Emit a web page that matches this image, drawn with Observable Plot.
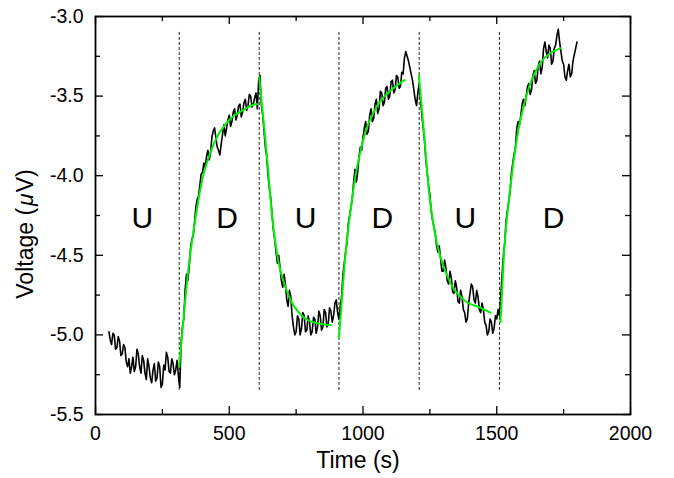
<!DOCTYPE html>
<html>
<head>
<meta charset="utf-8">
<script src="https://cdn.jsdelivr.net/npm/d3@7"></script>
<script src="https://cdn.jsdelivr.net/npm/@observablehq/plot@0.6"></script>
<style>
  html, body { margin: 0; padding: 0; background: #fff; }
  #chart { width: 674px; height: 478px; }
</style>
</head>
<body>
<div id="chart"></div>
<script>
// ---- Data ----
// Measured trace: time (s)
const traceTime = [
  50,55,60,65,70,75,80,85,90,95,100,105,110,115,120,125,130,135,140,145,150,155,160,165,170,175,180,185,190,195,
  200,205,210,215,220,225,230,235,240,245,250,255,260,265,270,275,280,285,290,295,300,305,310,315,
  320,325,330,335,340,345,350,355,360,365,370,375,380,385,390,395,400,405,410,415,420,425,430,435,440,445,
  450,455,460,465,470,475,480,485,490,495,500,505,510,515,520,525,530,535,540,545,550,555,560,565,570,575,
  580,585,590,595,600,605,610,615,
  620,625,630,635,640,645,650,655,660,665,670,675,680,685,690,695,700,705,710,715,720,725,730,735,740,745,
  750,755,760,765,770,775,780,785,790,795,800,805,810,815,820,825,830,835,840,845,850,855,860,865,870,875,
  880,885,890,895,900,905,
  910,915,920,925,930,935,940,945,950,955,960,965,970,975,980,985,990,995,1000,1005,1010,1015,1020,1025,
  1030,1035,1040,1045,1050,1055,1060,1065,1070,1075,1080,1085,1090,1095,1100,1105,1110,1115,1120,1125,
  1130,1135,1140,1145,1150,1155,1160,1165,1170,1175,1180,1185,1190,1195,1200,1205,
  1210,1215,1220,1225,1230,1235,1240,1245,1250,1255,1260,1265,1270,1275,1280,1285,1290,1295,1300,1305,
  1310,1315,1320,1325,1330,1335,1340,1345,1350,1355,1360,1365,1370,1375,1380,1385,1390,1395,1400,1405,
  1410,1415,1420,1425,1430,1435,1440,1445,1450,1455,1460,1465,1470,1475,1480,1485,1490,1495,1500,1505,
  1510,1515,1520,1525,1530,1535,1540,1545,1550,1555,1560,1565,1570,1575,1580,1585,1590,1595,1600,1605,
  1610,1615,1620,1625,1630,1635,1640,1645,1650,1655,1660,1665,1670,1675,1680,1685,1690,1695,1700,1705,
  1710,1715,1720,1725,1730,1735,1740,1745,1750,1755,1760,1765,1770,1775,1780,1785,1790,1795,1800
];
// Measured trace: voltage (µV)
const traceVolt = [
  -4.98,-5.03,-5.06,-4.99,-5.00,-5.09,-5.08,-5.01,-5.04,-5.13,-5.12,-5.06,-5.08,-5.17,-5.20,-5.15,-5.24,-5.20,-5.14,-5.23,-5.20,-5.09,-5.12,-5.20,-5.24,-5.13,-5.16,-5.24,-5.28,-5.15,
  -5.20,-5.27,-5.30,-5.22,-5.18,-5.29,-5.27,-5.17,-5.20,-5.33,-5.31,-5.19,-5.22,-5.11,-5.14,-5.23,-5.24,-5.15,-5.18,-5.25,-5.22,-5.16,-5.26,-5.33,
  -5.05,-4.95,-4.90,-4.72,-4.62,-4.66,-4.58,-4.46,-4.40,-4.38,-4.30,-4.20,-4.15,-4.13,-4.06,-3.99,-3.98,-3.92,-3.95,-3.88,-3.84,-3.90,-3.86,-3.76,-3.72,-3.70,
  -3.76,-3.82,-3.84,-3.87,-3.80,-3.74,-3.68,-3.75,-3.70,-3.65,-3.62,-3.69,-3.66,-3.60,-3.58,-3.65,-3.62,-3.56,-3.55,-3.63,-3.60,-3.54,-3.52,-3.59,-3.56,-3.49,
  -3.50,-3.57,-3.55,-3.51,-3.48,-3.58,-3.40,-3.37,
  -3.55,-3.62,-3.72,-3.82,-3.88,-4.00,-4.08,-4.14,-4.24,-4.34,-4.40,-4.48,-4.55,-4.50,-4.58,-4.66,-4.70,-4.62,-4.68,-4.78,-4.82,-4.72,-4.76,-4.88,-4.95,-5.00,
  -4.98,-4.88,-4.90,-5.00,-4.96,-4.86,-4.88,-4.98,-4.97,-4.88,-4.92,-5.00,-4.98,-4.89,-4.90,-4.99,-4.95,-4.85,-4.88,-4.97,-4.95,-4.84,-4.86,-4.95,-4.93,-4.83,
  -4.85,-4.92,-4.88,-4.80,-4.78,-4.86,
  -4.90,-4.82,-4.76,-4.62,-4.55,-4.48,-4.42,-4.30,-4.25,-4.20,-4.14,-4.04,-3.96,-4.04,-3.98,-3.88,-3.82,-3.84,-3.76,-3.70,-3.66,-3.74,-3.72,-3.62,
  -3.58,-3.66,-3.64,-3.55,-3.52,-3.61,-3.58,-3.47,-3.48,-3.56,-3.54,-3.45,-3.44,-3.52,-3.50,-3.41,-3.40,-3.48,-3.46,-3.37,
  -3.38,-3.45,-3.44,-3.35,-3.36,-3.26,-3.22,-3.25,-3.28,-3.32,-3.36,-3.40,-3.46,-3.52,-3.56,-3.48,
  -3.42,-3.52,-3.62,-3.70,-3.78,-3.90,-3.98,-4.06,-4.12,-4.22,-4.28,-4.32,-4.36,-4.44,-4.48,-4.44,-4.52,-4.60,-4.60,-4.53,
  -4.58,-4.66,-4.68,-4.60,-4.64,-4.73,-4.74,-4.66,-4.70,-4.79,-4.80,-4.72,-4.76,-4.84,-4.86,-4.92,-4.90,-4.80,-4.74,-4.68,
  -4.70,-4.78,-4.80,-4.72,-4.76,-4.84,-4.86,-4.80,-4.84,-4.92,-4.94,-5.00,-4.98,-4.90,-4.92,-4.99,-4.96,-4.88,-4.90,-4.84,
  -4.88,-4.76,-4.62,-4.50,-4.42,-4.28,-4.22,-4.16,-4.10,-3.98,-3.92,-3.86,-3.82,-3.70,-3.66,-3.68,-3.62,-3.55,-3.52,-3.56,
  -3.50,-3.44,-3.42,-3.49,-3.46,-3.37,-3.34,-3.42,-3.40,-3.31,-3.28,-3.36,-3.32,-3.20,-3.16,-3.22,-3.26,-3.18,-3.20,-3.30,
  -3.28,-3.20,-3.18,-3.12,-3.08,-3.16,-3.22,-3.28,-3.30,-3.38,-3.40,-3.34,-3.30,-3.38,-3.36,-3.28,-3.24,-3.20,-3.16
];

// Fitted curves (green), one series per segment
const fitSeg = [
  1,1,1,1,1,1,1,1,1,1,1,1,1,1,1,1,
  2,2,2,2,2,2,2,2,2,2,2,
  3,3,3,3,3,3,3,3,3,3,3,3,3,
  4,4,4,4,4,4,4,4,
  5,5,5,5,5,5,5,5
];
const fitTime = [
  313,330,345,361,380,400,420,440,460,480,500,520,540,560,580,604,
  612,625,642,660,685,710,735,760,797,840,880,
  910,920,930,940,955,970,990,1010,1040,1070,1100,1130,1155,
  1209,1227,1246,1271,1315,1377,1439,1477,
  1514,1527,1551,1576,1614,1664,1700,1738
];
const fitVolt = [
  -5.20,-4.88,-4.62,-4.41,-4.20,-4.02,-3.90,-3.81,-3.74,-3.69,-3.65,-3.62,-3.60,-3.58,-3.56,-3.55,
  -3.38,-3.60,-3.90,-4.25,-4.55,-4.70,-4.80,-4.86,-4.91,-4.93,-4.94,
  -5.02,-4.80,-4.58,-4.40,-4.20,-4.02,-3.85,-3.72,-3.60,-3.52,-3.47,-3.43,-3.40,
  -3.37,-3.71,-4.09,-4.38,-4.63,-4.78,-4.83,-4.86,
  -4.92,-4.49,-4.07,-3.76,-3.48,-3.29,-3.23,-3.20
];

// Dashed switching lines
const switchTimes = [313, 612, 910, 1210, 1510];
const switchTop = -3.1;
const switchBottom = -5.35;

// Region labels
const regionLabels = ["U", "D", "U", "D", "U", "D"];
const regionX = [175, 492, 785, 1072, 1383, 1712];
const regionY = -4.27;

// Axis ticks
const xMajor = [0, 500, 1000, 1500, 2000];
const xMinor = [250, 750, 1250, 1750];
const yMajor = [-3.0, -3.5, -4.0, -4.5, -5.0, -5.5];
const yMinor = [-3.25, -3.75, -4.25, -4.75, -5.25];

const xTitle = "Time (s)";

// ---- Build tables ----
const trace = traceTime.map((t, i) => ({t, v: traceVolt[i]}));
const fits = fitTime.map((t, i) => ({t, v: fitVolt[i], s: fitSeg[i]}));
const switches = switchTimes.map(t => ({t, y1: switchTop, y2: switchBottom}));
const regions = regionLabels.map((l, i) => ({l, x: regionX[i], y: regionY}));

const W = 674, H = 478;
const mT = 16, mR = 44, mB = 64, mL = 95;
const innerH = H - mT - mB, innerW = W - mL - mR;
const majorLen = 8, minorLen = 5;
const tickStyle = {stroke: "black", strokeWidth: 1.3};

const chart = Plot.plot({
  width: W,
  height: H,
  marginTop: mT, marginRight: mR, marginBottom: mB, marginLeft: mL,
  style: {fontFamily: "'Liberation Sans', Arial, sans-serif", fontSize: "19.5px", background: "white", color: "black"},
  x: {domain: [0, 2000]},
  y: {domain: [-5.5, -3.0]},
  marks: [
    Plot.ruleX(switches, {x: "t", y1: "y1", y2: "y2", stroke: "#222", strokeWidth: 1, strokeDasharray: "3,2"}),
    Plot.line(trace, {x: "t", y: "v", stroke: "black", strokeWidth: 1.6}),
    Plot.line(fits, {x: "t", y: "v", z: "s", stroke: "#00f000", strokeWidth: 2, curve: "monotone-x"}),
    Plot.text(regions, {x: "x", y: "y", text: "l", fontSize: 30, fill: "black"}),
    // inward ticks on all four sides
    Plot.tickX(xMajor, {x: d => d, insetTop: innerH - majorLen, ...tickStyle}),
    Plot.tickX(xMajor, {x: d => d, insetBottom: innerH - majorLen, ...tickStyle}),
    Plot.tickX(xMinor, {x: d => d, insetTop: innerH - minorLen, ...tickStyle}),
    Plot.tickX(xMinor, {x: d => d, insetBottom: innerH - minorLen, ...tickStyle}),
    Plot.tickY(yMajor, {y: d => d, insetRight: innerW - majorLen, ...tickStyle}),
    Plot.tickY(yMajor, {y: d => d, insetLeft: innerW - majorLen, ...tickStyle}),
    Plot.tickY(yMinor, {y: d => d, insetRight: innerW - minorLen, ...tickStyle}),
    Plot.tickY(yMinor, {y: d => d, insetLeft: innerW - minorLen, ...tickStyle}),
    Plot.axisX({ticks: xMajor, tickSize: 0, tickPadding: 11.5, tickFormat: d => String(d), label: null, fontSize: 19.5}),
    Plot.axisY({ticks: yMajor, tickSize: 0, tickPadding: 12, tickFormat: d => d.toFixed(1), label: null, fontSize: 19.5}),
    Plot.frame({stroke: "black", strokeWidth: 1.8})
  ]
});

const svg = d3.select(chart);
svg.append("text")
  .attr("x", 358)
  .attr("y", 468)
  .attr("text-anchor", "middle")
  .attr("font-size", 23)
  .attr("fill", "black")
  .text(xTitle);

const yt = svg.append("text")
  .attr("transform", "translate(33,234) rotate(-90)")
  .attr("text-anchor", "middle")
  .attr("font-size", 23)
  .attr("fill", "black");
yt.append("tspan").text("Voltage (");
yt.append("tspan").attr("font-style", "italic").attr("dx", 2).text("\u03bc");
yt.append("tspan").attr("dx", 1).text("V)");

document.getElementById("chart").appendChild(chart);
</script>
</body>
</html>
